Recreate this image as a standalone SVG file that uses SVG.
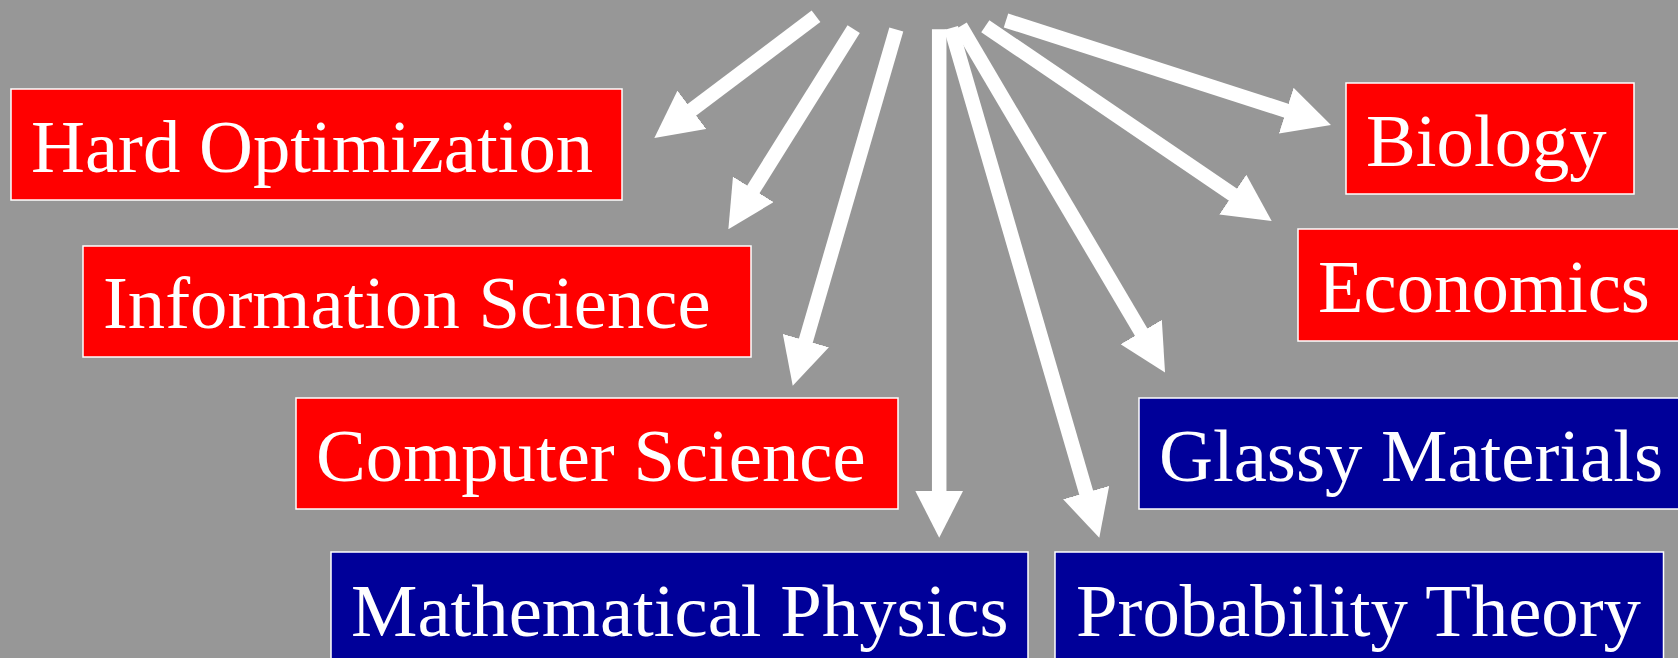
<svg xmlns="http://www.w3.org/2000/svg" width="1678" height="658" viewBox="0 0 1678 658">
<style>
.box rect{stroke:#ffffff;stroke-width:1.5}
.red rect{fill:#ff0000}
.blue rect{fill:#000099}
.box text{font-family:"Liberation Serif","Times New Roman",serif;font-size:74.7px;fill:#ffffff}
.conn line{stroke:#ffffff;stroke-width:14.5;fill:none;marker-end:url(#ah)}
</style>
<defs>
<marker id="ah" markerUnits="userSpaceOnUse" viewBox="0 0 47 48" markerWidth="47" markerHeight="48" refX="7" refY="24" orient="auto">
<path d="M0,0 L47,24 L0,48 Z" fill="#ffffff"/>
</marker>
</defs>
<rect x="0" y="0" width="1678" height="658" fill="#979797"/>
<g id="connectors" class="conn">
<line x1="816" y1="16.3" x2="686.3" y2="114"/>
<line x1="853.7" y1="29.2" x2="749.6" y2="195.3"/>
<line x1="896.3" y1="29.5" x2="803.9" y2="347.3"/>
<line x1="939.2" y1="29.3" x2="939.2" y2="497.7"/>
<line x1="951" y1="28" x2="1088.1" y2="499.3"/>
<line x1="960.5" y1="26.3" x2="1144.7" y2="338.1"/>
<line x1="985.3" y1="26.2" x2="1238.6" y2="198.5"/>
<line x1="1006" y1="20.5" x2="1292.9" y2="112.8"/>
</g>
<g id="hard-optimization" class="box red">
<rect x="11" y="89" width="611" height="111"/>
<text x="31" y="172">Hard Optimization</text>
</g>
<g id="information-science" class="box red">
<rect x="83" y="246" width="668" height="111"/>
<text x="103" y="328">Information Science</text>
</g>
<g id="computer-science" class="box red">
<rect x="296" y="398" width="602" height="111"/>
<text x="316" y="481">Computer Science</text>
</g>
<g id="mathematical-physics" class="box blue">
<rect x="331" y="552" width="697" height="130"/>
<text x="351" y="636">Mathematical Physics</text>
</g>
<g id="probability-theory" class="box blue">
<rect x="1055" y="552" width="608.5" height="130"/>
<text x="1076" y="636">Probability Theory</text>
</g>
<g id="glassy-materials" class="box blue">
<rect x="1139" y="398" width="600" height="111"/>
<text x="1159" y="481">Glassy Materials</text>
</g>
<g id="biology" class="box red">
<rect x="1346" y="83" width="288" height="111"/>
<text x="1366" y="166">Biology</text>
</g>
<g id="economics" class="box red">
<rect x="1298" y="229" width="450" height="112"/>
<text x="1318" y="312">Economics</text>
</g>
</svg>
